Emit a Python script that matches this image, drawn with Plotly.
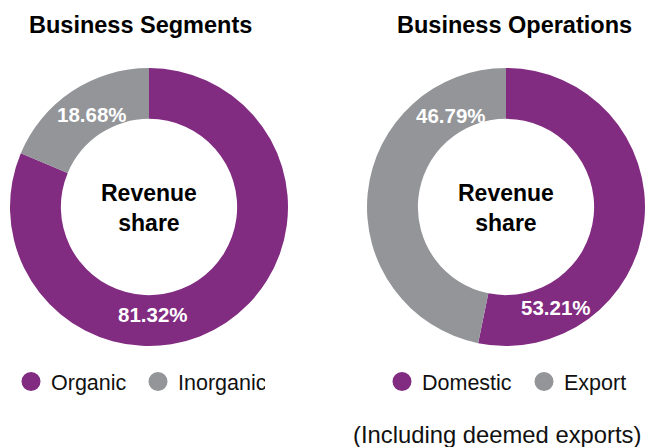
import math
import plotly.graph_objects as go

# ---------------- data ----------------
segment_labels = ["Organic", "Inorganic"]
segment_values = [81.32, 18.68]

operation_labels = ["Domestic", "Export"]
operation_values = [53.21, 46.79]

titles = ["Business Segments", "Business Operations"]
center_text = "Revenue<br>share"
footnote = "(Including deemed exports)"

# ---------------- style ----------------
W, H = 648, 447
PURPLE = "#812B81"
GREY = "#939598"
COLORS = [PURPLE, GREY]
FONT = "Liberation Sans, Arial, Helvetica, sans-serif"

CENTERS = [(149, 207), (506, 207)]   # donut centres in px
R = 139                               # outer radius in px
HOLE = 0.634
# label placement (angle clockwise from 12 o'clock in degrees, radius px)
LABEL_POS = [[(178, 108), (328.5, 109)], [(153.7, 112), (329, 107)]]
TITLE_X = [140.5, 514]
TITLE_Y = 25.5


def px(x):
    return x / W


def py(y):
    return 1 - y / H


fig = go.Figure()

datasets = [(segment_labels, segment_values), (operation_labels, operation_values)]
annotations = []
for i, (labels, values) in enumerate(datasets):
    cx, cy = CENTERS[i]
    fig.add_trace(go.Pie(
        labels=labels, values=values,
        hole=HOLE, sort=False, direction="clockwise", rotation=0,
        marker=dict(colors=COLORS, line=dict(width=0)),
        textinfo="none", showlegend=False, hoverinfo="label+percent",
        domain=dict(x=[px(cx - R), px(cx + R)], y=[py(cy + R), py(cy - R)]),
    ))
    # percent labels
    for v, (ang, rad) in zip(values, LABEL_POS[i]):
        a = math.radians(ang)
        lx = cx + rad * math.sin(a)
        ly = cy - rad * math.cos(a)
        annotations.append(dict(
            x=px(lx), y=py(ly), xref="paper", yref="paper",
            text=f"{v:.2f}%", showarrow=False,
            font=dict(family=FONT, size=20.5, color="white", weight="bold"),
            xanchor="center", yanchor="middle",
        ))
    # centre text
    annotations.append(dict(
        x=px(cx), y=py(cy + 1), xref="paper", yref="paper",
        text=f"<b>{center_text}</b>", showarrow=False,
        font=dict(family=FONT, size=23, color="black"),
        xanchor="center", yanchor="middle",
    ))
    # title
    annotations.append(dict(
        x=px(TITLE_X[i]), y=py(TITLE_Y), xref="paper", yref="paper",
        text=f"<b>{titles[i]}</b>", showarrow=False,
        font=dict(family=FONT, size=23.5, color="black"),
        xanchor="center", yanchor="middle",
    ))
    # legend entries (circle markers)
    for lab, col in zip(labels, COLORS):
        fig.add_trace(go.Scatter(
            x=[None], y=[None], mode="markers", name=lab,
            marker=dict(color=col, size=16, symbol="circle",
                        line=dict(color=col, width=3)),
            legend="legend" if i == 0 else "legend2",
            hoverinfo="skip",
        ))

annotations.append(dict(
    x=px(643), y=py(434), xref="paper", yref="paper",
    text=footnote, showarrow=False,
    font=dict(family=FONT, size=23.8, color="#111111"),
    xanchor="right", yanchor="middle",
))

legend_common = dict(
    orientation="h", xanchor="left", yanchor="top",
    font=dict(family=FONT, size=21.5, color="#111111"),
    bgcolor="rgba(0,0,0,0)", borderwidth=0,
    itemsizing="trace",
)

fig.update_layout(
    width=W, height=H, autosize=False,
    margin=dict(l=0, r=0, t=0, b=0, pad=0, autoexpand=False),
    paper_bgcolor="white", plot_bgcolor="white",
    xaxis=dict(visible=False), yaxis=dict(visible=False),
    annotations=annotations,
    legend=dict(x=px(11), y=py(361), entrywidth=82, **legend_common),
    legend2=dict(x=px(382), y=py(361), entrywidth=97, **legend_common),
    showlegend=True,
)

post = (
    "document.documentElement.style.margin='0';"
    "document.documentElement.style.overflow='hidden';"
    "document.body.style.margin='0';"
    "document.body.style.padding='0';"
    "document.body.style.overflow='hidden';"
    "var gd=document.getElementById('{plot_id}');"
    "Plotly.relayout(gd,{width:%d,height:%d});" % (W, H)
)

fig.write_html("out.html", config={"responsive": False, "displayModeBar": False},
               post_script=post)
